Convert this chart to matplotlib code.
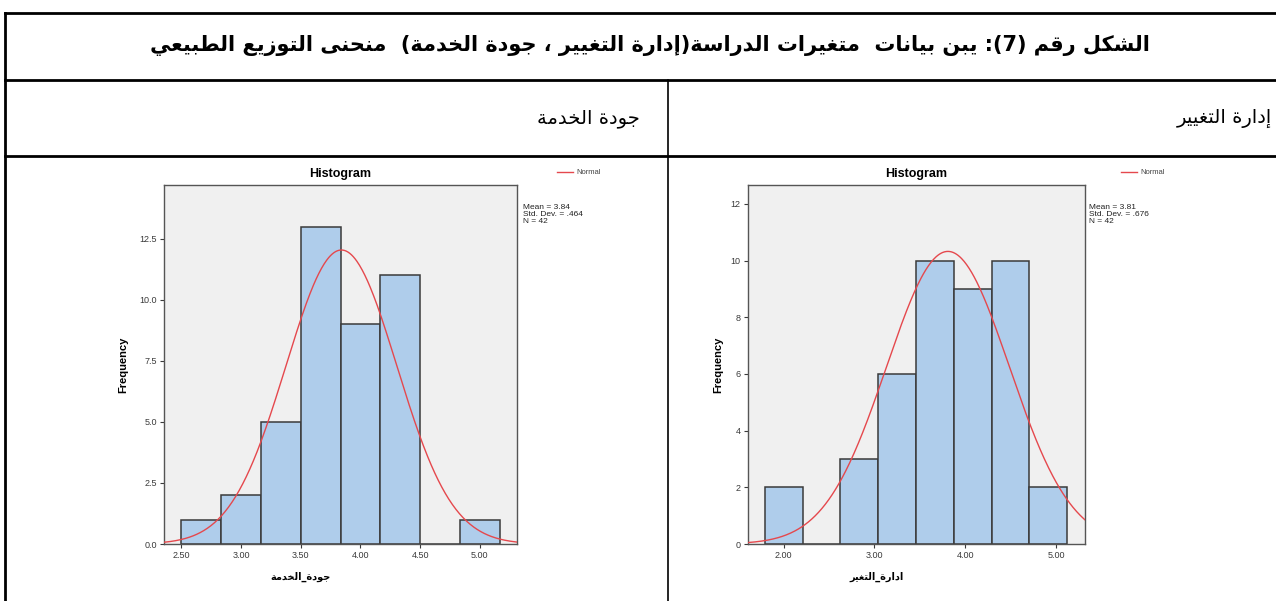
import re
import unicodedata
import numpy as np
import matplotlib
matplotlib.use("Agg")
import matplotlib.pyplot as plt

W, H = 1276, 601

# جودة الخدمة
service_edges = [2.50, 2.833, 3.167, 3.50, 3.833, 4.167, 4.50, 4.833, 5.167]
service_counts = [1, 2, 5, 13, 9, 11, 0, 1]
service_mean, service_sd, service_n = 3.84, 0.464, 42
service_xticks = [2.5, 3.0, 3.5, 4.0, 4.5, 5.0]
service_yticks = [0.0, 2.5, 5.0, 7.5, 10.0, 12.5]

# إدارة التغيير
change_edges = [1.792, 2.208, 2.625, 3.042, 3.458, 3.875, 4.292, 4.708, 5.125]
change_counts = [2, 0, 3, 6, 10, 9, 10, 2]
change_mean, change_sd, change_n = 3.81, 0.676, 42
change_xticks = [2, 3, 4, 5]
change_yticks = [0, 2, 4, 6, 8, 10, 12]

title_txt = "الشكل رقم (7): يبن بيانات  متغيرات الدراسة(إدارة التغيير ، جودة الخدمة)  منحنى التوزيع الطبيعي"
head_left = "جودة الخدمة"
head_right = "إدارة التغيير"
xlab_left = "جودة_الخدمة"
xlab_right = "ادارة_التغير"

# --- arabic shaping (no raqm in matplotlib) ---
FORMS = {}
for cp in range(0xFE70, 0xFF00):
    d = unicodedata.decomposition(chr(cp))
    if not d:
        continue
    tag, *codes = d.split()
    if tag in ("<isolated>", "<final>", "<initial>", "<medial>"):
        key = "".join(chr(int(c, 16)) for c in codes)
        FORMS.setdefault(key, {})[tag[1:-1]] = chr(cp)


def shape(s):
    toks = []
    i = 0
    while i < len(s):
        pair = s[i:i + 2]
        if len(pair) == 2 and pair in FORMS and pair[0] == "ل":
            toks.append(pair)
            i += 2
        else:
            toks.append(s[i])
            i += 1

    def fwd(t):
        f = FORMS.get(t, {})
        return "initial" in f or "medial" in f

    def back(t):
        return "final" in FORMS.get(t, {})

    out = []
    for k, t in enumerate(toks):
        if t not in FORMS:
            out.append(t)
            continue
        p = k > 0 and fwd(toks[k - 1]) and back(t)
        n = k + 1 < len(toks) and fwd(t) and back(toks[k + 1])
        f = FORMS[t]
        if p and n and "medial" in f:
            out.append(f["medial"])
        elif p:
            out.append(f.get("final", t))
        elif n and "initial" in f:
            out.append(f["initial"])
        else:
            out.append(f.get("isolated", t))
    vis = "".join(out)[::-1]
    vis = vis.translate(str.maketrans("()", ")("))
    vis = re.sub(r"[0-9.]+", lambda m: m.group(0)[::-1], vis)
    return vis


fig = plt.figure(figsize=(W / 100, H / 100), dpi=100)

# table frame
base = fig.add_axes([0, 0, 1, 1], zorder=0)
base.set_xlim(0, W)
base.set_ylim(H, 0)
base.axis("off")
for y in (13, 80, 156):
    base.plot([5, W], [y, y], color="black", lw=2)
base.plot([5, 5], [13, H], color="black", lw=2)
base.plot([668, 668], [80, H], color="black", lw=1.2)

base.text(650, 45, shape(title_txt), family="DejaVu Sans", weight="bold",
          fontsize=15, ha="center", va="center")
base.text(640, 118, shape(head_left), family="DejaVu Sans", fontsize=14,
          ha="right", va="center")
base.text(1272, 118, shape(head_right), family="DejaVu Sans", fontsize=14,
          ha="right", va="center")

latin = "Liberation Sans"
bar_face = "#AFCDEB"
bar_edge = "#3A3A3A"
curve_col = "#E5484D"


def draw_hist(box, edges, counts, mu, sd, n, xticks, yticks, xlim, ylim,
              yfmt, xlab, freq_x, stat_x, leg_x):
    l, r, t, b = box
    ax = fig.add_axes([l / W, 1 - b / H, (r - l) / W, (b - t) / H], zorder=1)
    ax.set_facecolor("#F0F0F0")
    e = np.array(edges)
    ax.bar(e[:-1], counts, width=np.diff(e), align="edge", color=bar_face,
           edgecolor=bar_edge, linewidth=1.1, zorder=2)
    xs = np.linspace(xlim[0], xlim[1], 400)
    w = np.mean(np.diff(e))
    ys = n * w * np.exp(-0.5 * ((xs - mu) / sd) ** 2) / (sd * np.sqrt(2 * np.pi))
    ax.plot(xs, ys, color=curve_col, lw=1.0, zorder=3)
    ax.set_xlim(*xlim)
    ax.set_ylim(*ylim)
    ax.set_xticks(xticks)
    ax.set_xticklabels(["%.2f" % v for v in xticks])
    ax.set_yticks(yticks)
    ax.set_yticklabels([yfmt % v for v in yticks])
    ax.tick_params(labelsize=6.5, colors="#3a3a3a", length=3, width=0.8, pad=2)
    for sp in ax.spines.values():
        sp.set_color("#555555")
        sp.set_linewidth(1.0)
    for lab in ax.get_xticklabels() + ax.get_yticklabels():
        lab.set_family(latin)

    cx = (l + r) / 2
    base.text(cx, 174, "Histogram", family=latin, weight="bold", fontsize=9,
              ha="center", va="center")
    base.text(freq_x, (t + b) / 2, "Frequency", family=latin, weight="bold",
              fontsize=8, rotation=90, ha="center", va="center")
    base.text(cx - 40, 577, shape(xlab), family="DejaVu Sans", weight="bold",
              fontsize=7, ha="center", va="center")
    base.text(stat_x, 204, "Mean = %.2f\nStd. Dev. = %s\nN = %d"
              % (mu, ("%.3f" % sd)[1:], n), family=latin, fontsize=6,
              ha="left", va="top", linespacing=1.0, color="#222222")
    base.plot([leg_x, leg_x + 16], [172, 172], color=curve_col, lw=1)
    base.text(leg_x + 19, 172, "Normal", family=latin, fontsize=5.5,
              ha="left", va="center", color="#444444")


draw_hist((164, 517, 185, 544), service_edges, service_counts, service_mean,
          service_sd, service_n, service_xticks, service_yticks,
          (2.354, 5.311), (0, 14.7), "%.1f", xlab_left, 123, 523, 557)
draw_hist((747.5, 1085, 185, 544), change_edges, change_counts, change_mean,
          change_sd, change_n, change_xticks, change_yticks,
          (1.602, 5.32), (0, 12.67), "%d", xlab_right, 718, 1089, 1121)

fig.savefig("out.png", dpi=100)
